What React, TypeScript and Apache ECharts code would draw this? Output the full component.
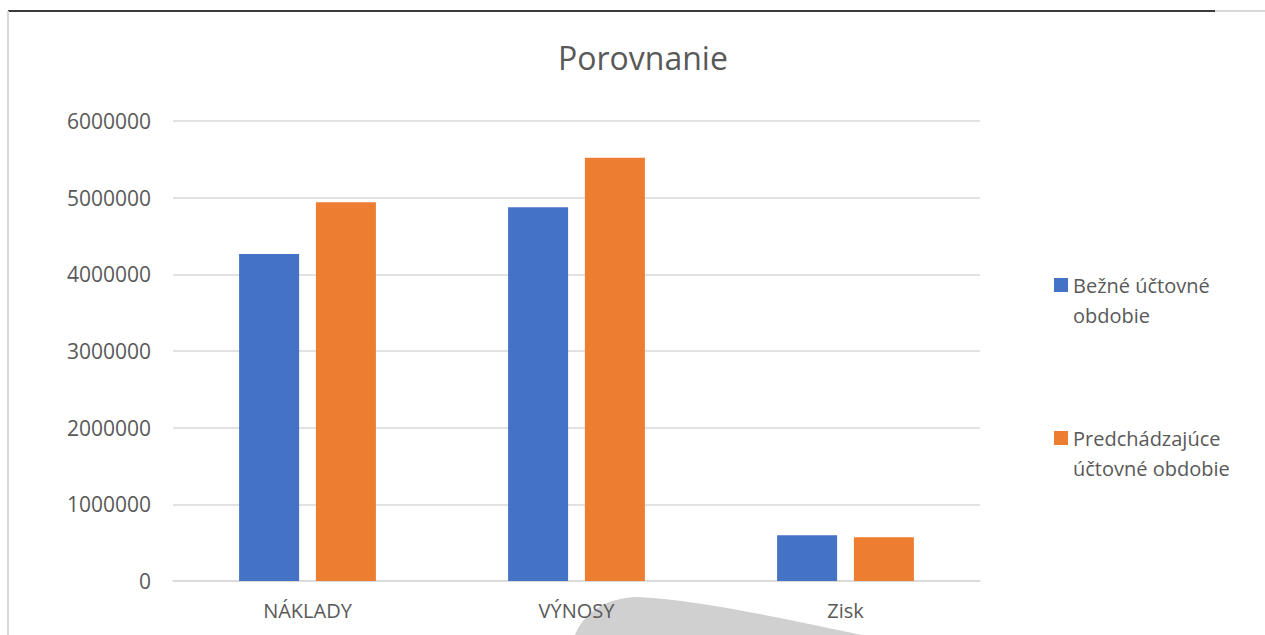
import React, { useEffect, useRef } from "react";
import * as echarts from "echarts";

const categories = ["NÁKLADY", "VÝNOSY", "Zisk"];
const seriesNames = ["Bežné účtovné\nobdobie", "Predchádzajúce\núčtovné obdobie"];
const currentPeriod = [4265000, 4875000, 596000];
const previousPeriod = [4940000, 5520000, 570000];
const yTicks = { min: 0, max: 6000000, interval: 1000000 };

const FONT = "'Open Sans', 'Noto Sans', sans-serif";
const TXT = "#595959";
const BLOB_PATH = "M575,635 C584,613 604,598 638,597 C700,600 790,620 862,635 Z";

let shapeRegistered = false;

export default function App() {
  const ref = useRef<HTMLDivElement>(null);
  useEffect(() => {
    document.body.style.margin = "0";
    if (!shapeRegistered) {
      echarts.graphic.registerShape(
        "blob",
        echarts.graphic.extendPath(BLOB_PATH, {}) as any
      );
      shapeRegistered = true;
    }
    const chart = echarts.init(ref.current!, null, { renderer: "svg" });
    chart.setOption({
      animation: false,
      backgroundColor: "#ffffff",
      textStyle: { fontFamily: FONT },
      title: {
        text: "Porovnanie",
        left: 553,
        top: 36,
        textStyle: { fontFamily: FONT, fontSize: 32, fontWeight: "normal", color: TXT },
      },
      legend: {
        orient: "vertical",
        left: 1054,
        top: 240,
        padding: 0,
        itemWidth: 14,
        itemHeight: 14,
        itemGap: 63,
        icon: "rect",
        formatter: (name: string) => "\n" + name,
        textStyle: {
          fontFamily: FONT,
          fontSize: 20,
          color: TXT,
          lineHeight: 30,
        },
        data: seriesNames,
      },
      grid: { left: 173, right: 285, top: 121, bottom: 54, containLabel: false },
      xAxis: {
        type: "category",
        data: categories,
        axisLine: { lineStyle: { color: "#d9d9d9", width: 1.5 } },
        axisTick: { show: false },
        axisLabel: { fontFamily: FONT, fontSize: 20, color: TXT, margin: 19 },
      },
      yAxis: {
        type: "value",
        min: yTicks.min,
        max: yTicks.max,
        interval: yTicks.interval,
        axisLine: { show: false },
        axisTick: { show: false },
        axisLabel: {
          fontFamily: FONT,
          fontSize: 21,
          color: TXT,
          margin: 22,
          formatter: (v: number) => String(v),
        },
        splitLine: { lineStyle: { color: "#d9d9d9", width: 1.5 } },
      },
      series: [
        {
          name: seriesNames[0],
          type: "bar",
          data: currentPeriod,
          barWidth: 60,
          barGap: "28%",
          itemStyle: { color: "#4472C4" },
        },
        {
          name: seriesNames[1],
          type: "bar",
          data: previousPeriod,
          barWidth: 60,
          barGap: "28%",
          itemStyle: { color: "#ED7D31" },
        },
      ],
      graphic: [
        {
          type: "blob",
          x: 0,
          y: 0,
          z: -10,
          silent: true,
          style: { fill: "#d0d0d0" },
        },
        {
          type: "line",
          z: 100,
          shape: { x1: 8, y1: 11, x2: 1215, y2: 11 },
          style: { stroke: "#3a3a3a", lineWidth: 2 },
        },
        {
          type: "line",
          z: 100,
          shape: { x1: 1215, y1: 11, x2: 1265, y2: 11 },
          style: { stroke: "#d9d9d9", lineWidth: 2 },
        },
        {
          type: "line",
          z: 100,
          shape: { x1: 8, y1: 11, x2: 8, y2: 635 },
          style: { stroke: "#d9d9d9", lineWidth: 2 },
        },
      ],
    });
    return () => chart.dispose();
  }, []);
  return <div ref={ref} style={{ width: 1265, height: 635 }} />;
}
